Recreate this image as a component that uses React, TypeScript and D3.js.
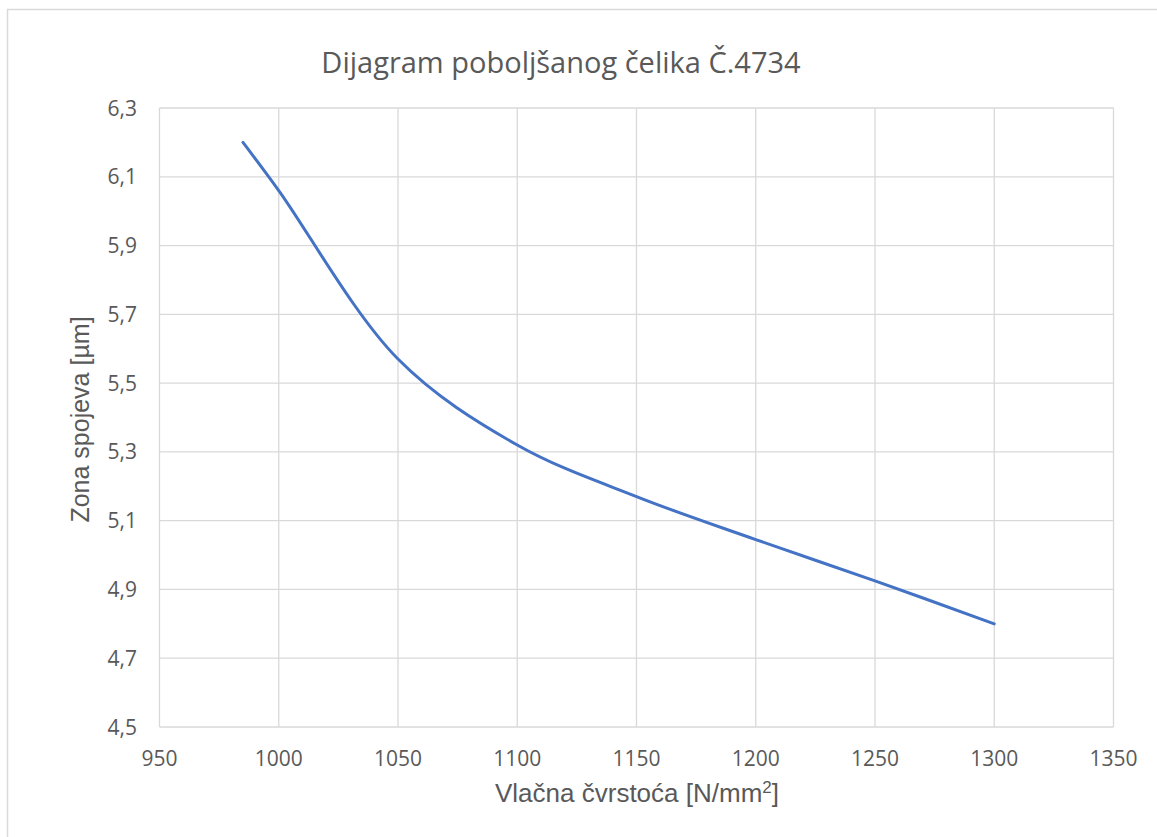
import React from "react";
import * as d3 from "d3";

const xValues = [985, 1000, 1050, 1100, 1150, 1200, 1250, 1300];
const yValues = [6.2, 6.06, 5.57, 5.32, 5.17, 5.045, 4.925, 4.8];
const xTicks = [950, 1000, 1050, 1100, 1150, 1200, 1250, 1300, 1350];
const yTicks = [4.5, 4.7, 4.9, 5.1, 5.3, 5.5, 5.7, 5.9, 6.1, 6.3];
const title = "Dijagram poboljšanog čelika Č.4734";
const yTitle = "Zona spojeva [µm]";

export default function App() {
  const W = 1157, H = 837;
  const left = 159.5, right = 1113.5, top = 108, bottom = 727;
  const x = d3.scaleLinear().domain([950, 1350]).range([left, right]);
  const y = d3.scaleLinear().domain([4.5, 6.3]).range([bottom, top]);
  const pts = xValues.map((v, i) => [v, yValues[i]] as [number, number]);
  const line = d3
    .line<[number, number]>()
    .x((d) => x(d[0]))
    .y((d) => y(d[1]))
    .curve(d3.curveCatmullRom.alpha(0.5));
  const grid = "#d9d9d9";
  const text = "#595959";
  const fnt = "'Open Sans', sans-serif";
  const afnt = "'Liberation Sans', Arial, sans-serif";
  return (
    <svg width={W} height={H} style={{ position: "absolute", left: 0, top: 0 }}>
      <rect x={0} y={0} width={W} height={H} fill="#fff" />
      <rect x={7.5} y={9.5} width={W + 10} height={H + 10} fill="#fff" stroke={grid} strokeWidth={1.5} />
      <text x={561} y={73} textAnchor="middle" fontFamily={fnt} fontSize={29} fill={text}>
        {title}
      </text>
      {xTicks.map((t) => (
        <line key={"gx" + t} x1={x(t)} x2={x(t)} y1={top} y2={bottom} stroke={grid} strokeWidth={1.3} />
      ))}
      {yTicks.map((t) => (
        <line key={"gy" + t} x1={left} x2={right} y1={y(t)} y2={y(t)} stroke={grid} strokeWidth={1.3} />
      ))}
      {xTicks.map((t) => (
        <text key={"tx" + t} x={x(t)} y={766} textAnchor="middle" fontFamily={fnt} fontSize={21} fill={text}>
          {t}
        </text>
      ))}
      {yTicks.map((t) => (
        <text key={"ty" + t} x={137} y={y(t) + 7.5} textAnchor="end" fontFamily={fnt} fontSize={21} fill={text}>
          {d3.format(".1f")(t).replace(".", ",")}
        </text>
      ))}
      <path d={line(pts) || ""} fill="none" stroke="#4472C4" strokeWidth={3} strokeLinecap="round" />
      <text x={637} y={802} textAnchor="middle" fontFamily={afnt} fontSize={26} fill={text}>
        Vlačna čvrstoća [N/mm<tspan fontSize={17} dy={-9}>2</tspan><tspan dy={9}>]</tspan>
      </text>
      <text
        transform={`translate(89, ${(top + bottom) / 2 + 2}) rotate(-90)`}
        textAnchor="middle"
        fontFamily={afnt}
        fontSize={25}
        fill={text}
      >
        {yTitle}
      </text>
    </svg>
  );
}
